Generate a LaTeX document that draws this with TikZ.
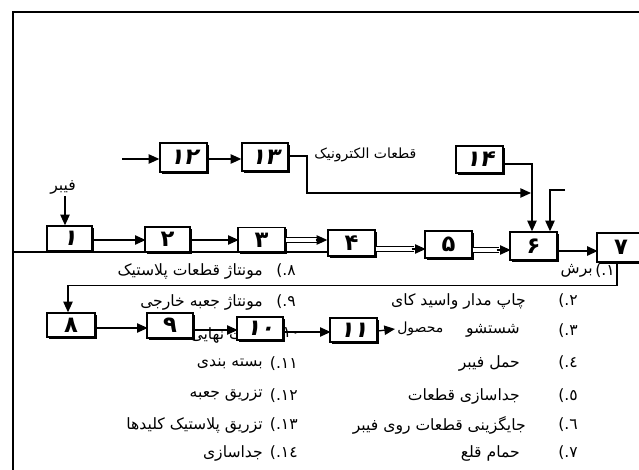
\documentclass[tikz,border=0pt]{standalone}
\usepackage{fontspec}
\usetikzlibrary{arrows.meta,shadows,calc}
\TeXXeTstate=1
\newfontfamily\fa[Script=Arabic]{DejaVu Sans}
\newfontfamily\fanum{DejaVu Sans}
\newfontfamily\bxf{DejaVu Sans}
\newfontfamily\bxfi[FakeSlant=0.25]{DejaVu Sans}
\begin{document}
\begin{tikzpicture}[x=0.75pt,y=-0.75pt,
  bx/.style 2 args={draw, line width=1pt, fill=white,
    minimum width=#1*0.75pt, minimum height=#2*0.75pt, inner sep=0pt,
    drop shadow={shadow xshift=1.5pt, shadow yshift=-1.5pt, opacity=1, fill=black},
    font=\bxf\bfseries\fontsize{17}{17}\selectfont},
  it/.style={font=\bxfi\bfseries\fontsize{17}{17}\selectfont},
  lbl/.style={font=\fa\fontsize{11.7}{13}\selectfont, inner sep=0pt},
  slbl/.style={font=\fa\fontsize{10.5}{12}\selectfont, inner sep=0pt},
  num/.style={font=\fanum\fontsize{11.7}{13}\selectfont, inner sep=0pt},
  arr/.style={-{Triangle[length=8pt,width=7pt]}, line width=1pt},
  ln/.style={line width=1pt},
  dline/.style={double, double distance=2.4pt, line width=0.75pt}]
\useasboundingbox (0,0) rectangle (639,470);
\clip (0,0) rectangle (639,470);
% frame
\draw[line width=1.5pt] (13,470) -- (13,12) -- (639,12);
% list texts (right column)
\node[lbl, anchor=east] (r1) at (593,271) {\beginR برش\endR};
\node[num, anchor=east] (n1) at (615,271) {(.١};
\node[lbl, anchor=east] (r2) at (526,301) {\beginR چاپ مدار واسید کای\endR};
\node[num, anchor=east] (n2) at (578,301) {(.٢};
\node[lbl, anchor=east] (r3) at (520,331) {\beginR شستشو\endR};
\node[num, anchor=east] (n3) at (578,331) {(.٣};
\node[lbl, anchor=east] (r4) at (520,363) {\beginR حمل فیبر\endR};
\node[num, anchor=east] (n4) at (578,363) {(.٤};
\node[lbl, anchor=east] (r5) at (520,396) {\beginR جداسازی قطعات\endR};
\node[num, anchor=east] (n5) at (578,396) {(.٥};
\node[lbl, anchor=east] (r6) at (526,425) {\beginR جایگزینی قطعات روی فیبر\endR};
\node[num, anchor=east] (n6) at (578,425) {(.٦};
\node[lbl, anchor=east] (r7) at (520,453) {\beginR حمام قلع\endR};
\node[num, anchor=east] (n7) at (578,453) {(.٧};
% list texts (left column)
\node[lbl, anchor=east] (l8) at (263,271) {\beginR مونتاژ قطعات پلاستیک\endR};
\node[num, anchor=east] (n8) at (296,271) {(.٨};
\node[lbl, anchor=east] (l9) at (263,302) {\beginR مونتاژ جعبه خارجی\endR};
\node[num, anchor=east] (n9) at (296,302) {(.٩};
\node[lbl, anchor=east] (l10) at (263,335) {\beginR تست نهایی\endR};
\node[num, anchor=east] (n10) at (300,333) {(.١٠};
\node[lbl, anchor=east] (l11) at (263,364) {\beginR بسته بندی\endR};
\node[num, anchor=east] (n11) at (298,364) {(.١١};
\node[lbl, anchor=east] (l12) at (263,396) {\beginR تزریق جعبه\endR};
\node[num, anchor=east] (n12) at (298,396) {(.١٢};
\node[lbl, anchor=east] (l13) at (263,425) {\beginR تزریق پلاستیک کلیدها\endR};
\node[num, anchor=east] (n13) at (298,425) {(.١٣};
\node[lbl, anchor=east] (l14) at (263,453) {\beginR جداسازی\endR};
\node[num, anchor=east] (n14) at (298,453) {(.١٤};
% other labels
\node[lbl] (fib) at (63,187) {\beginR فیبر\endR};
\node[slbl, anchor=west] (elec) at (314,155) {\beginR قطعات الکترونیک\endR};
\node[slbl, anchor=west, inner sep=1.5pt] (prod) at (395,329) {\beginR محصول\endR};
% boxes
\node[bx={47}{29}, it] (b12) at (183.5,157.5) {۱۲};
\node[bx={46}{28}, it] (b13) at (265,157) {۱۳};
\node[bx={47}{27}, it] (b14) at (479.5,159.5) {۱۴};
\node[bx={45}{25}, it] (b1) at (69.5,238.5) {۱};
\node[bx={45}{25}] (b2) at (167.5,239.5) {۲};
\node[bx={47}{25}] (b3) at (261.5,240) {۳};
\node[bx={47}{26}] (b4) at (351.5,243) {۴};
\node[bx={47}{27}] (b5) at (448.5,244.5) {۵};
\node[bx={47}{28}] (b6) at (533.5,246) {۶};
\node[bx={48}{29}] (b7) at (621,247.5) {۷};
\node[bx={48}{24}] (b8) at (71,325) {۸};
\node[bx={46}{25}] (b9) at (170,325.5) {۹};
\node[bx={46}{23}, it] (b10) at (260,328.5) {۱۰};
\node[bx={47}{24}, it] (b11) at (353.5,330) {۱۱};
% coordinates
\coordinate (in12) at (122,159);
\coordinate (fr) at (13,252);
\coordinate (j1) at (531,193);
\coordinate (s1) at (565,190);
\path (b6.north) ++(-1.5,0) coordinate (t6a);
\path (b6.north) ++(16.5,0) coordinate (t6b);
% connectors top
\draw[arr] (in12) -- (in12 -| b12.west);
\draw[arr] (b12.east) ++(0,1.5) -- (b13.west |- in12);
\draw[arr] (b13.east) ++(0,-1) -- (307,156) -- (307,193) -- (j1);
\draw[arr] (b14.east) ++(0,4.5) -| (t6a);
\draw[arr] (s1) -| (t6b);
% main row
\draw[ln] (fr) -- (b4.west |- fr);
\draw[arr] (fib.south) ++(2,2) -- ($(b1.north)+(-4.5,0)$);
\draw[arr] (b1.east) ++(0,1.5) -- ++(53,0);
\draw[arr] (b2.east) ++(0,0.5) -- ++(48,0);
\draw[dline] (b3.east) -- ++(32,0);
\draw[arr] (b3.east) ++(30,0) -- (b3.east -| b4.west);
\draw[dline] (b4.east) ++(0,6) -- ++(38,0);
\draw[arr] (b4.east) ++(36,6) -- ++(14,0);
\draw[dline] (b5.east) ++(0,5.5) -- ++(26,0);
\draw[arr] (b5.east) ++(24,5.5) -- ++(14,0);
\draw[arr, line width=1.5pt] (b6.east) ++(0,5) -- ++(40,0);
% feedback
\draw[arr] (b7.south) ++(-4,0) -- ++(0,23) -| ($(b8.north)+(-3,0)$);
% second row
\draw[arr] (b8.east) ++(0,3) -- ++(52,0);
\draw[arr] (b9.east) ++(0,4.5) -- ++(44,0);
\draw[arr] (b10.east) ++(0,3.5) -- ++(47,0);
\draw[arr] (b11.east) ++(0,1) -- (prod.west);
\end{tikzpicture}
\end{document}
